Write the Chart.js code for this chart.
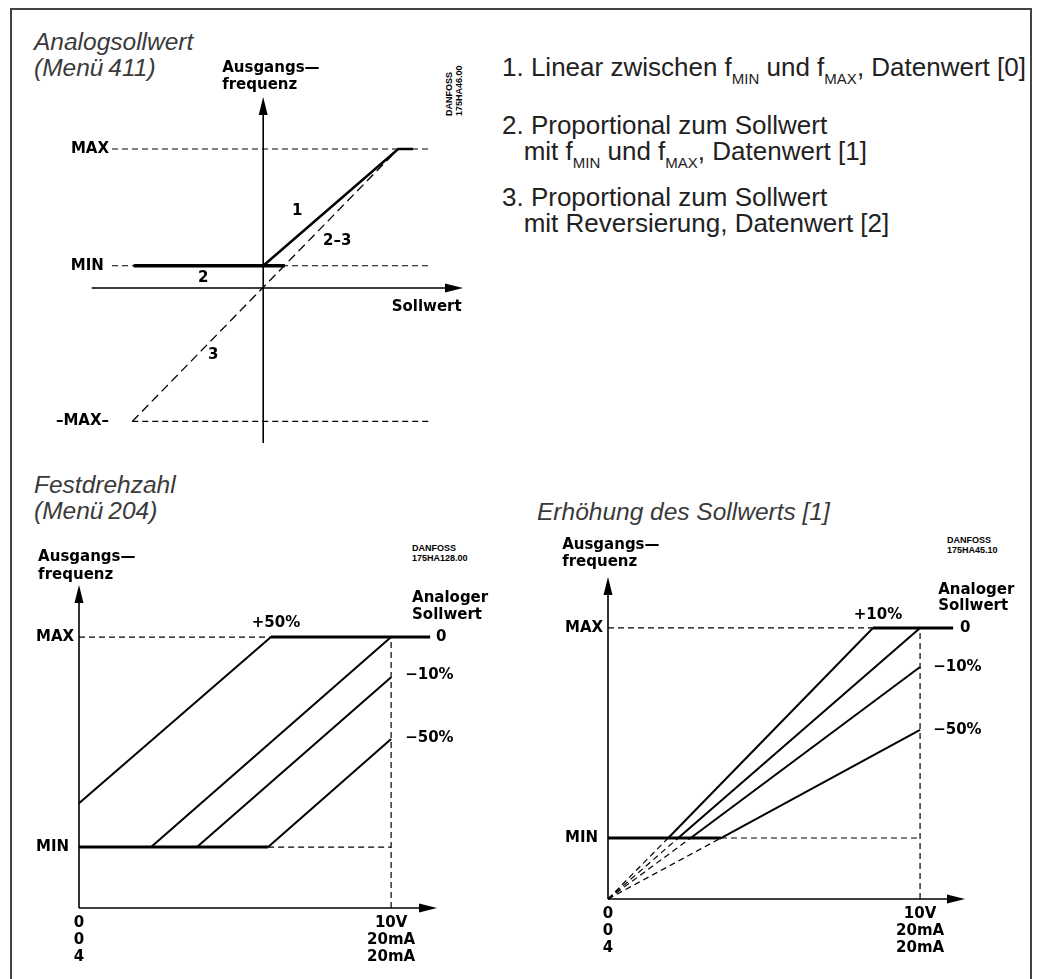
<!DOCTYPE html>
<html>
<head>
<meta charset="utf-8">
<script src="https://cdn.jsdelivr.net/npm/chart.js@4.4.1/dist/chart.umd.min.js"></script>
<style>
    body { margin: 0; background: #fff; }
    #page { position: relative; width: 1037px; height: 979px; overflow: hidden; background: #fff;
            font-family: 'Liberation Sans', Arial, sans-serif; }
    #frame { position: absolute; left: 10px; top: 8px; width: 1018px; height: 1000px; border: 2px solid #444; }
    canvas { position: absolute; }
    .head { position: absolute; font-style: italic; font-size: 24.5px; line-height: 26px; color: #3a3a3a; white-space: nowrap; }
    .list { position: absolute; left: 502px; font-size: 26px; line-height: 26px; color: #222; white-space: nowrap; }
    .list .sub { font-size: 15px; position: relative; top: 8px; }
    .code { position: absolute; font: bold 9px 'Liberation Sans Narrow', 'Liberation Sans', Arial, sans-serif;
            line-height: 10px; color: #000; white-space: nowrap; }
</style>
</head>
<body>
<div id="page">
    <div id="frame"></div>

    <div class="head" style="left:34px; top:29px">Analogsollwert<br>(Menü&thinsp;411)</div>
    <div class="head" style="left:34px; top:472px">Festdrehzahl<br>(Menü&thinsp;204)</div>
    <div class="head" style="left:537px; top:499px">Erhöhung des Sollwerts [1]</div>

    <div class="list" style="top:54px">1. Linear zwischen f<span class="sub">MIN</span> und f<span class="sub">MAX</span>, Datenwert [0]</div>
    <div class="list" style="top:112px">2. Proportional zum Sollwert<br>&nbsp;&nbsp;&nbsp;mit f<span class="sub">MIN</span> und f<span class="sub">MAX</span>, Datenwert [1]</div>
    <div class="list" style="top:184px">3. Proportional zum Sollwert<br>&nbsp;&nbsp;&nbsp;mit Reversierung, Datenwert [2]</div>

    <div class="code" style="left:444px; top:116px; transform-origin:0 0; transform:rotate(-90deg)">DANFOSS<br>175HA46.00</div>
    <div class="code" style="left:412px; top:543px">DANFOSS<br>175HA128.00</div>
    <div class="code" style="left:947px; top:535px">DANFOSS<br>175HA45.10</div>

    <canvas id="chartAnalog" width="480" height="430" style="left:0; top:30px"></canvas>
    <canvas id="chartFixed" width="500" height="449" style="left:0; top:530px"></canvas>
    <canvas id="chartIncrease" width="517" height="459" style="left:520px; top:520px"></canvas>
</div>

<script>
// ---------- Analogsollwert (Menü 411) ----------
const anaLevels = [100, 16, -96];                 // MAX, MIN, -MAX
const anaLevelLabels = ['MAX', 'MIN ', '–MAX–'];
const anaGuideX = [[-112, 125], [-112, 125], [-97, 125]];
const curve1X = [0, 100, 111];                    // 1: linear f_MIN..f_MAX
const curve1Y = [16, 100, 100];
const curve2X = [-96, 16];                        // 2: held at MIN
const curve2Y = [16, 16];
const curve23X = [-97, 100];                      // 2-3: proportional
const curve23Y = [-96, 100];

// ---------- Festdrehzahl (Menü 204) ----------
const refTicks = [0, 10];
const refTickLabels = [['0', '0', '4'], ['10V', '20mA', '20mA']];
const outLevels = [100, 22.5];                    // MAX, MIN
const outLevelLabels = ['MAX', 'MIN'];
const fixSeries = ['+50%', '0', '−10%', '−50%'];
const fixStartX = [0, 2.31, 3.78, 6.06];
const fixStartY = [38.7, 22.5, 22.5, 22.5];
const fixEndX = [6.15, 10, 10, 10];
const fixEndY = [100, 100, 85.2, 62.4];
const fixMinRun = [0, 6.06];
const fixMaxRun = [6.15, 11.25];

// ---------- Erhöhung des Sollwerts [1] ----------
const incSeries = ['+10%', '0', '−10%', '−50%'];
const incKneeX = [1.93, 2.25, 2.65, 3.62];        // where each line leaves MIN
const incEndX = [8.49, 10, 10, 10];
const incEndY = [100, 100, 85.6, 62.4];
const incMinRun = [0, 3.62];
const incMaxRun = [8.49, 11.06];

const FONT = { family: "'DejaVu Sans'", size: 15, weight: 'bold' };
Chart.defaults.color = '#000';

const dashed = { borderWidth: 1.2, borderDash: [6, 4] };
const solid = w => ({ borderWidth: w, borderDash: [] });

function seg(xs, ys, style) {
    return Object.assign({
        data: xs.map((x, i) => ({ x: x, y: ys[i] })),
        showLine: true, pointRadius: 0, fill: false, tension: 0, clip: false,
        borderColor: '#000', borderCapStyle: 'butt'
    }, style);
}

// axes with arrowheads + free text labels, all placed through the scales
const diagramPlugin = {
    id: 'diagram',
    afterDatasetsDraw(chart, args, opts) {
        const { ctx, scales: { x, y } } = chart;
        const ax = opts.axes;
        const ox = x.getPixelForValue(0), oy = y.getPixelForValue(0);
        const xl = x.getPixelForValue(ax.x[0]), xr = x.getPixelForValue(ax.x[1]);
        const yb = y.getPixelForValue(ax.y[0]), yt = y.getPixelForValue(ax.y[1]);
        ctx.save();
        ctx.strokeStyle = '#000';
        ctx.fillStyle = '#000';
        ctx.lineWidth = 1.6;
        ctx.beginPath();
        ctx.moveTo(xl, oy); ctx.lineTo(xr - 10, oy);
        ctx.moveTo(ox, yb); ctx.lineTo(ox, yt + 10);
        ctx.stroke();
        ctx.beginPath();
        ctx.moveTo(xr, oy); ctx.lineTo(xr - 18, oy - 4.5); ctx.lineTo(xr - 18, oy + 4.5);
        ctx.closePath(); ctx.fill();
        ctx.beginPath();
        ctx.moveTo(ox, yt); ctx.lineTo(ox - 4.5, yt + 18); ctx.lineTo(ox + 4.5, yt + 18);
        ctx.closePath(); ctx.fill();

        ctx.font = 'bold 15px "DejaVu Sans"';
        ctx.textBaseline = 'middle';
        opts.labels.forEach(l => {
            ctx.textAlign = l.align || 'center';
            ctx.fillText(l.text, x.getPixelForValue(l.x), y.getPixelForValue(l.y));
        });
        ctx.restore();
    }
};

function levelAxis(min, max, values, labels, width, align) {
    return {
        type: 'linear', position: 'left', min: min, max: max,
        grid: { display: false, drawTicks: false }, border: { display: false },
        afterBuildTicks: s => { s.ticks = values.map(v => ({ value: v })); },
        afterFit: s => { s.width = width; },
        ticks: { autoSkip: false, padding: 3, crossAlign: align, font: FONT,
                 callback: (v, i) => labels[i] }
    };
}

function refAxis(max) {
    return {
        type: 'linear', min: 0, max: max,
        grid: { display: false, drawTicks: false }, border: { display: false },
        afterBuildTicks: s => { s.ticks = refTicks.map(v => ({ value: v })); },
        afterFit: s => { s.height = 60; },
        ticks: { autoSkip: false, maxRotation: 0, padding: 6,
                 font: Object.assign({ lineHeight: 1.15 }, FONT),
                 callback: (v, i) => refTickLabels[i] }
    };
}

const common = {
    responsive: false, animation: false, devicePixelRatio: 1,
    events: []
};

// ---- chart 1 ----
const anaData = [];
anaLevels.forEach((lv, i) => anaData.push(seg(anaGuideX[i], [lv, lv], dashed)));
anaData.push(seg(curve23X, curve23Y, { borderWidth: 1.3, borderDash: [9, 5] }));
anaData.push(seg(curve1X, curve1Y, solid(2.5)));
anaData.push(seg(curve2X, curve2Y, solid(3.5)));

new Chart(document.getElementById('chartAnalog'), {
    type: 'scatter',
    data: { datasets: anaData },
    options: Object.assign({}, common, {
        layout: { padding: { left: 0, top: 67, right: 17, bottom: 17 } },
        scales: {
            x: { type: 'linear', min: -112, max: 148, display: false },
            y: levelAxis(-111.5, 137.4, anaLevels, anaLevelLabels, 112, 'near')
        },
        plugins: {
            legend: { display: false }, tooltip: { enabled: false },
            diagram: {
                axes: { x: [-127, 148], y: [-111.5, 137.4] },
                labels: [
                    { text: 'Ausgangs—', x: -30.4, y: 158, align: 'left' },
                    { text: 'frequenz', x: -30.4, y: 146, align: 'left' },
                    { text: 'Sollwert', x: 147, y: -14, align: 'right' },
                    { text: '1', x: 25.2, y: 55 },
                    { text: '2–3', x: 54.8, y: 34 },
                    { text: '2', x: -44.4, y: 7 },
                    { text: '3', x: -37, y: -48 }
                ]
            }
        }
    }),
    plugins: [diagramPlugin]
});

// ---- chart 2 ----
const fixData = [
    seg([0, 10], [outLevels[0], outLevels[0]], dashed),
    seg([fixMinRun[1], 10], [outLevels[1], outLevels[1]], dashed),
    seg([10, 10], [0, outLevels[0]], dashed),
    seg(fixMinRun, [outLevels[1], outLevels[1]], solid(3)),
    seg(fixMaxRun, [outLevels[0], outLevels[0]], solid(3))
];
fixSeries.forEach((name, i) => {
    fixData.push(Object.assign(seg([fixStartX[i], fixEndX[i]], [fixStartY[i], fixEndY[i]], solid(2)), { label: name }));
});

new Chart(document.getElementById('chartFixed'), {
    type: 'scatter',
    data: { datasets: fixData },
    options: Object.assign({}, common, {
        layout: { padding: { left: 36, top: 55, right: 63, bottom: 11 } },
        scales: {
            x: refAxis(11.47),
            y: levelAxis(0, 119.2, outLevels, outLevelLabels, 43, 'far')
        },
        plugins: {
            legend: { display: false }, tooltip: { enabled: false },
            diagram: {
                axes: { x: [0, 11.47], y: [0, 119.2] },
                labels: [
                    { text: 'Ausgangs—', x: -1.31, y: 129.5, align: 'left' },
                    { text: 'frequenz', x: -1.31, y: 122.9, align: 'left' },
                    { text: 'Analoger', x: 10.67, y: 114.4, align: 'left' },
                    { text: 'Sollwert', x: 10.67, y: 108.1, align: 'left' },
                    { text: fixSeries[0], x: 6.31, y: 105.2 },
                    { text: fixSeries[1], x: 11.44, y: 100, align: 'left' },
                    { text: fixSeries[2], x: 10.45, y: 86, align: 'left' },
                    { text: fixSeries[3], x: 10.45, y: 62.7, align: 'left' }
                ]
            }
        }
    }),
    plugins: [diagramPlugin]
});

// ---- chart 3 ----
const incData = [
    seg([0, 10], [outLevels[0], outLevels[0]], dashed),
    seg([incMinRun[1], 10], [outLevels[1], outLevels[1]], dashed),
    seg([10, 10], [0, outLevels[0]], dashed)
];
incSeries.forEach((name, i) => {
    incData.push(seg([0, incKneeX[i]], [0, outLevels[1]], { borderWidth: 1.2, borderDash: [6, 4] }));
});
incData.push(seg(incMinRun, [outLevels[1], outLevels[1]], solid(3)));
incData.push(seg(incMaxRun, [outLevels[0], outLevels[0]], solid(3)));
incSeries.forEach((name, i) => {
    incData.push(Object.assign(seg([incKneeX[i], incEndX[i]], [outLevels[1], incEndY[i]], solid(2)), { label: name }));
});

new Chart(document.getElementById('chartIncrease'), {
    type: 'scatter',
    data: { datasets: incData },
    options: Object.assign({}, common, {
        layout: { padding: { left: 45, top: 57, right: 72, bottom: 20 } },
        scales: {
            x: refAxis(11.44),
            y: levelAxis(0, 118.8, outLevels, outLevelLabels, 43, 'far')
        },
        plugins: {
            legend: { display: false }, tooltip: { enabled: false },
            diagram: {
                axes: { x: [0, 11.44], y: [0, 118.8] },
                labels: [
                    { text: 'Ausgangs—', x: -1.47, y: 130.6, align: 'left' },
                    { text: 'frequenz', x: -1.47, y: 124.4, align: 'left' },
                    { text: 'Analoger', x: 10.58, y: 114, align: 'left' },
                    { text: 'Sollwert', x: 10.58, y: 108.1, align: 'left' },
                    { text: incSeries[0], x: 8.65, y: 104.8 },
                    { text: incSeries[1], x: 11.28, y: 100, align: 'left' },
                    { text: incSeries[2], x: 10.42, y: 85.6, align: 'left' },
                    { text: incSeries[3], x: 10.42, y: 62.4, align: 'left' }
                ]
            }
        }
    }),
    plugins: [diagramPlugin]
});
</script>
</body>
</html>
